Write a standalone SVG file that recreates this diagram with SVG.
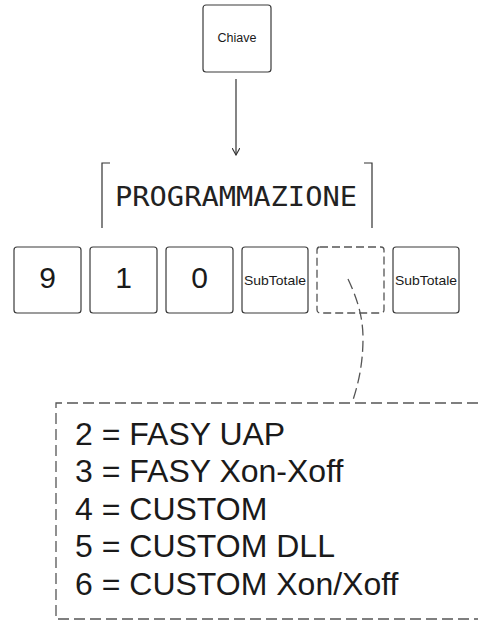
<svg xmlns="http://www.w3.org/2000/svg" width="478" height="621" viewBox="0 0 478 621">
<defs>
<style>
.key{fill:#fff;stroke:#3a3a3a;stroke-width:1.2}
.dkey{fill:#fff;stroke:#555;stroke-width:1.3;stroke-dasharray:8 4}
.conn{fill:none;stroke:#333;stroke-width:1.2}
.dash{fill:none;stroke:#555;stroke-width:1.3;stroke-dasharray:11 5}
.t{font-family:"Liberation Sans",Arial,sans-serif;fill:#1a1a1a}
.lcd{font-family:"DejaVu Sans Mono","Liberation Mono",monospace;fill:#222}
</style>
<marker id="arr" viewBox="0 0 10 10" refX="9" refY="5" markerWidth="8" markerHeight="8" orient="auto" markerUnits="userSpaceOnUse">
<path d="M0,0 L9,5 L0,10" fill="none" stroke="#333" stroke-width="1.4"/>
</marker>
</defs>
<rect width="478" height="621" fill="#fff"/>
<g id="chiave">
<rect class="key" x="203" y="5" width="68" height="67" rx="3"/>
<text class="t" x="237" y="42" font-size="12.5" text-anchor="middle">Chiave</text>
</g>
<g id="display">
<path class="conn" d="M110,163 H102 V228"/>
<path class="conn" d="M364,163 H372 V228"/>
<text class="lcd" x="115" y="206" font-size="27" textLength="242" lengthAdjust="spacingAndGlyphs">PROGRAMMAZIONE</text>
</g>
<g id="key9">
<rect class="key" x="14" y="247" width="67" height="66" rx="3"/>
<text class="t" x="47.5" y="288" font-size="30" text-anchor="middle">9</text>
</g>
<g id="key1">
<rect class="key" x="90" y="247" width="67" height="66" rx="3"/>
<text class="t" x="123.5" y="288" font-size="30" text-anchor="middle">1</text>
</g>
<g id="key0">
<rect class="key" x="166" y="247" width="67" height="66" rx="3"/>
<text class="t" x="199.5" y="288" font-size="30" text-anchor="middle">0</text>
</g>
<g id="subtotale1">
<rect class="key" x="242" y="247" width="66" height="66" rx="3"/>
<text class="t" x="244" y="285" font-size="13" textLength="62" lengthAdjust="spacingAndGlyphs">SubTotale</text>
</g>
<g id="keyvar">
<rect class="dkey" x="317" y="247" width="67" height="66" rx="3"/>
</g>
<g id="subtotale2">
<rect class="key" x="393" y="247" width="66" height="66" rx="3"/>
<text class="t" x="395" y="285" font-size="13" textLength="62" lengthAdjust="spacingAndGlyphs">SubTotale</text>
</g>
<g id="options">
<path class="dash" d="M478,403 H56 V619 H478"/>
<text class="t" font-size="32">
<tspan x="75" y="445">2 = FASY UAP</tspan>
<tspan x="75" y="482">3 = FASY Xon-Xoff</tspan>
<tspan x="75" y="520">4 = CUSTOM</tspan>
<tspan x="75" y="557">5 = CUSTOM DLL</tspan>
<tspan x="75" y="595">6 = CUSTOM Xon/Xoff</tspan>
</text>
</g>
<g id="connectors">
<path class="conn" d="M236,79 V155" marker-end="url(#arr)"/>
<path class="dash" d="M348,279 C356,296 363,315 363,338 C363,365 358,385 352,403"/>
</g>
</svg>
